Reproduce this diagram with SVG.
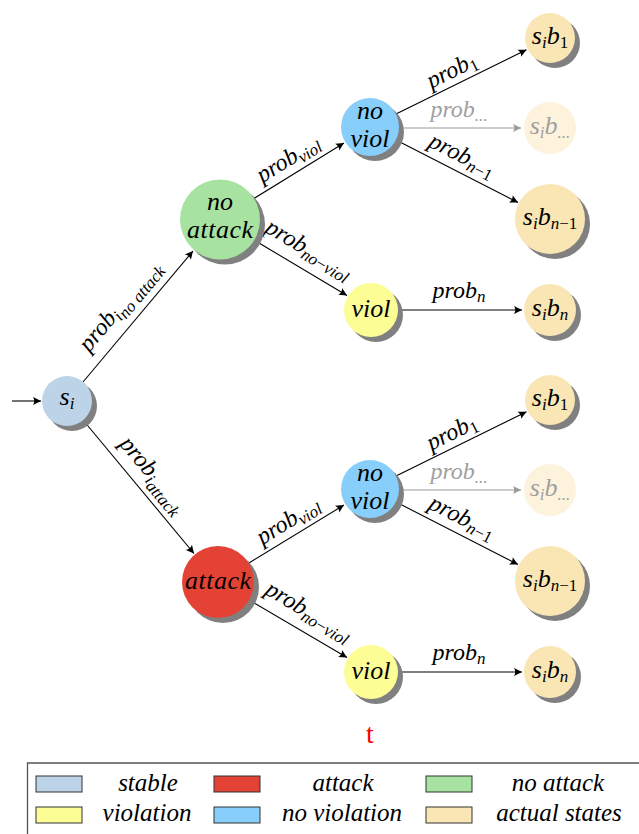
<svg xmlns="http://www.w3.org/2000/svg" width="639" height="834" viewBox="0 0 639 834">
<style>
.sh{fill:#808080}
.lbl{font-family:"Liberation Serif","Times New Roman",serif;font-style:italic;font-size:26px;fill:#000;text-anchor:middle}
.el{font-family:"Liberation Serif","Times New Roman",serif;font-style:italic;font-size:24px;fill:#000;text-anchor:middle}
.sub{font-size:17px}
.up{font-style:normal}
.edge{stroke:#000;stroke-width:1.1;fill:none;marker-end:url(#ah)}
.gedge{stroke:#9a9a9a;stroke-width:1.1;fill:none;marker-end:url(#ahg)}
.gtxt{fill:#a0a0a0}
.leg{font-family:"Liberation Serif","Times New Roman",serif;font-style:italic;font-size:25px;fill:#000;text-anchor:middle}
.sw{stroke:#333;stroke-width:1}
.stable{fill:#bdd3e7}.attack{fill:#e34234}.noattack{fill:#a8e2a0}
.viol{fill:#fdfd96}.noviol{fill:#87cefa}.actual{fill:#f9e6b4}.faded{fill:#fdf3dd}
</style>
<defs>
<marker id="ah" markerUnits="userSpaceOnUse" markerWidth="12" markerHeight="12" viewBox="-10 -6 12 12" refX="0" refY="0" orient="auto">
<path d="M0,0 L-8,-4 Q-5.5,0 -8,4 Z" fill="#000"/>
</marker>
<marker id="ahg" markerUnits="userSpaceOnUse" markerWidth="12" markerHeight="12" viewBox="-10 -6 12 12" refX="0" refY="0" orient="auto">
<path d="M0,0 L-8,-4 Q-5.5,0 -8,4 Z" fill="#9a9a9a"/>
</marker>
</defs>

<g id="connectors">
<path class="edge" d="M12,401 L41,401"/>
<path class="edge" d="M83,382 L193,251"/>
<path class="edge" d="M83,420 L194,553.5"/>
<path class="edge" d="M254,198.5 L344,143"/>
<path class="edge" d="M254,240 L347,295.5"/>
<path class="edge" d="M249,563 L344,505"/>
<path class="edge" d="M249,600 L347,657.5"/>
<path class="edge" d="M396,114 L526.5,49.7"/>
<path class="gedge" d="M399,128 L521,128"/>
<path class="edge" d="M396,140 L518,202.5"/>
<path class="edge" d="M398,310 L522,310"/>
<path class="edge" d="M396,476 L526.5,411.7"/>
<path class="gedge" d="M399,490 L521,490"/>
<path class="edge" d="M396,502 L518,564.5"/>
<path class="edge" d="M398,672 L522,672"/>

<text class="el" transform="translate(125,310) rotate(-50)">prob<tspan class="sub" dy="4">i</tspan><tspan class="sub" dy="3">no attack</tspan></text>
<text class="el" transform="translate(148,479) rotate(50)">prob<tspan class="sub" dy="4">i</tspan><tspan class="sub" dy="3">attack</tspan></text>
<text class="el" transform="translate(292,165) rotate(-31.5)">prob<tspan class="sub" dy="4">viol</tspan></text>
<text class="el" transform="translate(305,256) rotate(31)">prob<tspan class="sub" dy="4">no<tspan class="up">−</tspan>viol</tspan></text>
<text class="el" transform="translate(292,527) rotate(-31.5)">prob<tspan class="sub" dy="4">viol</tspan></text>
<text class="el" transform="translate(305,618) rotate(31)">prob<tspan class="sub" dy="4">no<tspan class="up">−</tspan>viol</tspan></text>

<text class="el" transform="translate(455,77) rotate(-26.3)">prob<tspan class="sub up" dy="4">1</tspan></text>
<text class="el gtxt" x="459" y="117">prob<tspan class="sub" dy="4">...</tspan></text>
<text class="el" transform="translate(459,162) rotate(27)">prob<tspan class="sub" dy="4">n<tspan class="up">−1</tspan></tspan></text>
<text class="el" x="459" y="298">prob<tspan class="sub" dy="4">n</tspan></text>
<text class="el" transform="translate(455,439) rotate(-26.3)">prob<tspan class="sub up" dy="4">1</tspan></text>
<text class="el gtxt" x="459" y="479">prob<tspan class="sub" dy="4">...</tspan></text>
<text class="el" transform="translate(459,524) rotate(27)">prob<tspan class="sub" dy="4">n<tspan class="up">−1</tspan></tspan></text>
<text class="el" x="459" y="660">prob<tspan class="sub" dy="4">n</tspan></text>
</g>

<g id="n-si">
<circle class="sh" cx="72" cy="406" r="25"/>
<circle class="stable" cx="67" cy="401" r="25"/>
<text class="lbl" x="67" y="405">s<tspan class="sub" dy="4">i</tspan></text>
</g>
<g id="n-noattack">
<circle class="sh" cx="225" cy="224.5" r="40"/>
<circle class="noattack" cx="220" cy="219.5" r="40"/>
<text class="lbl" x="220" y="210">no</text>
<text class="lbl" x="220" y="238" textLength="66" lengthAdjust="spacing">attack</text>
</g>
<g id="n-attack">
<circle class="sh" cx="223" cy="587" r="36"/>
<circle class="attack" cx="218" cy="582" r="36"/>
<text class="lbl" x="218" y="589" textLength="66" lengthAdjust="spacing">attack</text>
</g>
<g id="n-noviol1">
<circle class="sh" cx="375" cy="132" r="29"/>
<circle class="noviol" cx="370" cy="127" r="29"/>
<text class="lbl" x="370" y="119">no</text>
<text class="lbl" x="370" y="147">viol</text>
</g>
<g id="n-viol1">
<circle class="sh" cx="376" cy="315" r="27"/>
<circle class="viol" cx="371" cy="310" r="27"/>
<text class="lbl" x="371" y="317">viol</text>
</g>
<g id="n-noviol2">
<circle class="sh" cx="375" cy="494" r="29"/>
<circle class="noviol" cx="370" cy="489" r="29"/>
<text class="lbl" x="370" y="481">no</text>
<text class="lbl" x="370" y="509">viol</text>
</g>
<g id="n-viol2">
<circle class="sh" cx="376" cy="677" r="27"/>
<circle class="viol" cx="371" cy="672" r="27"/>
<text class="lbl" x="371" y="679">viol</text>
</g>

<g id="n-sb1-top">
<circle class="sh" cx="555" cy="43" r="25"/>
<circle class="actual" cx="550" cy="38" r="25"/>
<text class="lbl" x="550" y="44">s<tspan class="sub" dy="4">i</tspan><tspan dy="-4">b</tspan><tspan class="sub up" dy="4">1</tspan></text>
</g>
<g id="n-sbd-top">
<circle class="faded" cx="550" cy="128" r="26"/>
<text class="lbl gtxt" x="550" y="134">s<tspan class="sub" dy="4">i</tspan><tspan dy="-4">b</tspan><tspan class="sub" dy="4">...</tspan></text>
</g>
<g id="n-sbn1-top">
<circle class="sh" cx="555" cy="224" r="35"/>
<circle class="actual" cx="550" cy="219" r="35"/>
<text class="lbl" x="550" y="225">s<tspan class="sub" dy="4">i</tspan><tspan dy="-4">b</tspan><tspan class="sub" dy="4">n<tspan class="up">−1</tspan></tspan></text>
</g>
<g id="n-sbn-top">
<circle class="sh" cx="555" cy="315" r="26"/>
<circle class="actual" cx="550" cy="310" r="26"/>
<text class="lbl" x="550" y="316">s<tspan class="sub" dy="4">i</tspan><tspan dy="-4">b</tspan><tspan class="sub" dy="4">n</tspan></text>
</g>

<g id="n-sb1-bot">
<circle class="sh" cx="555" cy="405" r="25"/>
<circle class="actual" cx="550" cy="400" r="25"/>
<text class="lbl" x="550" y="406">s<tspan class="sub" dy="4">i</tspan><tspan dy="-4">b</tspan><tspan class="sub up" dy="4">1</tspan></text>
</g>
<g id="n-sbd-bot">
<circle class="faded" cx="550" cy="490" r="26"/>
<text class="lbl gtxt" x="550" y="496">s<tspan class="sub" dy="4">i</tspan><tspan dy="-4">b</tspan><tspan class="sub" dy="4">...</tspan></text>
</g>
<g id="n-sbn1-bot">
<circle class="sh" cx="555" cy="586" r="35"/>
<circle class="actual" cx="550" cy="581" r="35"/>
<text class="lbl" x="550" y="587">s<tspan class="sub" dy="4">i</tspan><tspan dy="-4">b</tspan><tspan class="sub" dy="4">n<tspan class="up">−1</tspan></tspan></text>
</g>
<g id="n-sbn-bot">
<circle class="sh" cx="555" cy="677" r="26"/>
<circle class="actual" cx="550" cy="672" r="26"/>
<text class="lbl" x="550" y="678">s<tspan class="sub" dy="4">i</tspan><tspan dy="-4">b</tspan><tspan class="sub" dy="4">n</tspan></text>
</g>

<text x="370" y="743" font-family="Liberation Serif, serif" font-size="28" fill="#ff0000" text-anchor="middle">t</text>

<g id="legend">
<path d="M641,763 H27.5 V836" fill="none" stroke="#555" stroke-width="1.3"/>
<rect class="sw stable" x="36" y="776" width="46" height="16"/>
<text class="leg" x="148" y="791">stable</text>
<rect class="sw attack" x="214" y="776" width="46" height="16"/>
<text class="leg" x="343" y="791">attack</text>
<rect class="sw noattack" x="426" y="776" width="46" height="16"/>
<text class="leg" x="558" y="791">no attack</text>
<rect class="sw viol" x="36" y="807" width="46" height="16"/>
<text class="leg" x="147" y="821">violation</text>
<rect class="sw noviol" x="214" y="807" width="46" height="16"/>
<text class="leg" x="342" y="821">no violation</text>
<rect class="sw actual" x="426" y="807" width="46" height="16"/>
<text class="leg" x="559" y="821">actual states</text>
</g>
</svg>
